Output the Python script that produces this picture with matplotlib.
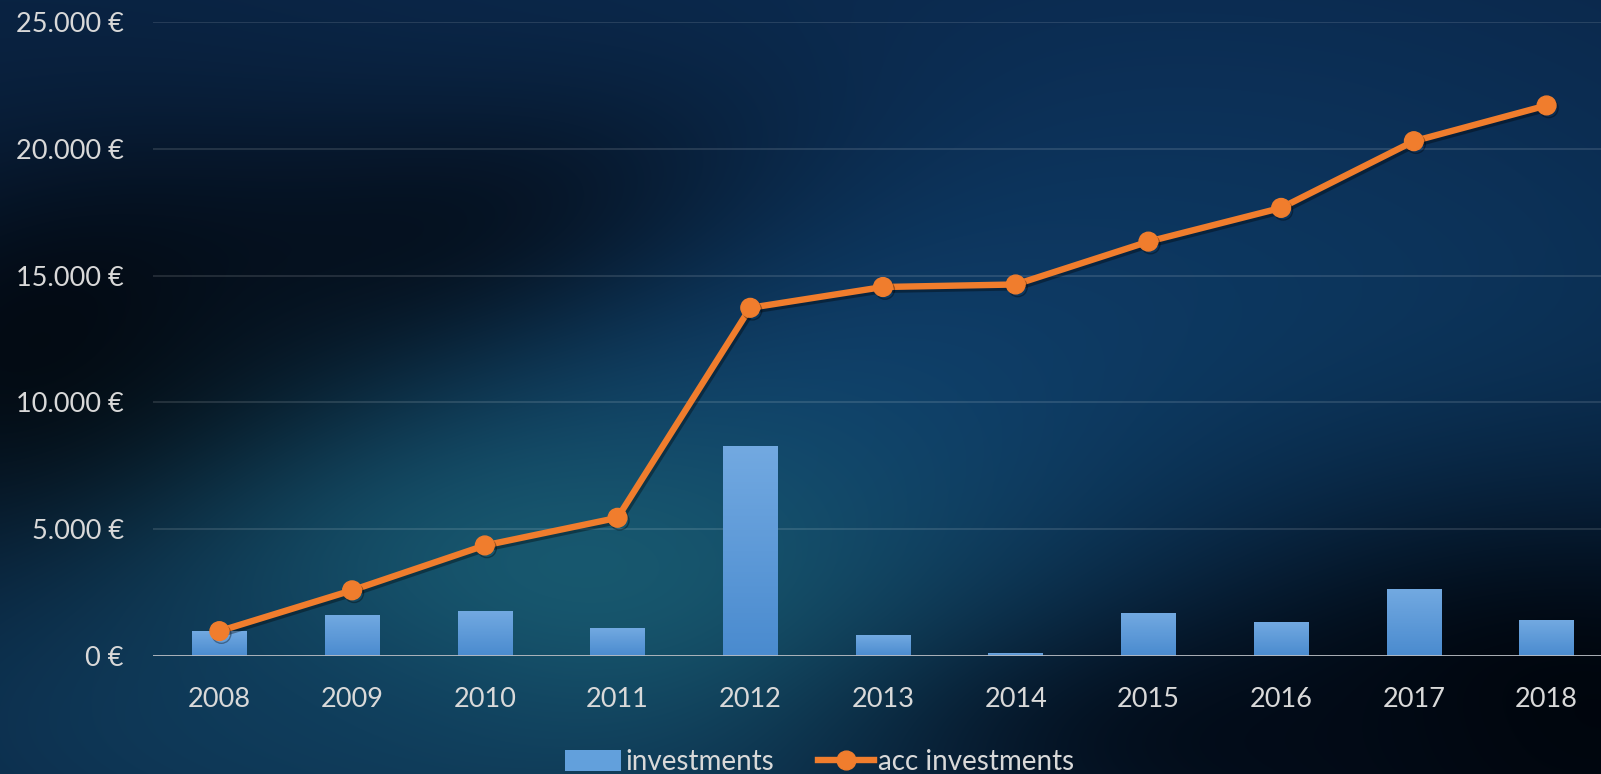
import numpy as np
import matplotlib
matplotlib.use("Agg")
import matplotlib.pyplot as plt
from matplotlib.lines import Line2D
from matplotlib.patches import Patch
import matplotlib.patheffects as pe
from matplotlib.ticker import FuncFormatter
from matplotlib.colors import LinearSegmentedColormap

years = ["2008", "2009", "2010", "2011", "2012", "2013", "2014", "2015", "2016", "2017", "2018"]
investments = [980, 1610, 1770, 1090, 8280, 820, 100, 1690, 1330, 2630, 1410]
acc_investments = [980, 2590, 4360, 5450, 13730, 14550, 14650, 16340, 17670, 20300, 21710]
yticks = [0, 5000, 10000, 15000, 20000, 25000]

plt.rcParams['font.family'] = ['Lato', 'DejaVu Sans']

W, H = 1601, 774
fig = plt.figure(figsize=(W / 100, H / 100), dpi=100)

# ---- background gradient ----
bg = fig.add_axes([0, 0, 1, 1], zorder=-10)
yy, xx = np.mgrid[0:H, 0:W].astype(float)
def hexc(h):
    h = h.lstrip('#')
    return np.array([int(h[i:i + 2], 16) / 255 for i in (0, 2, 4)])
img = np.ones((H, W, 3)) * hexc('#0a2342')
def blob(cx, cy, sx, sy, col, s=1.0, ang=0.0):
    global img
    a = np.deg2rad(ang)
    dx, dy = xx - cx, yy - cy
    u = dx * np.cos(a) + dy * np.sin(a)
    v = -dx * np.sin(a) + dy * np.cos(a)
    w = s * np.exp(-0.5 * ((u / sx) ** 2 + (v / sy) ** 2))
    img = img * (1 - w[..., None]) + hexc(col) * w[..., None]
blob(1100, 60, 600, 200, '#0c2d55', 0.7)
blob(950, 420, 450, 200, '#0f4170', 0.9)
blob(1350, 400, 350, 200, '#0d3a62', 0.6)
blob(80, 360, 220, 150, '#02060c', 1.0, -10)
blob(400, 250, 260, 100, '#040c18', 0.85, -15)
blob(560, 600, 280, 140, '#1a6074', 0.95)
blob(250, 730, 300, 110, '#0f3c5c', 0.7)
blob(1560, 720, 320, 170, '#00040a', 1.0)
blob(1250, 740, 250, 80, '#020a16', 0.8)
bg.imshow(np.clip(img, 0, 1), aspect='auto', extent=[0, W, H, 0])
bg.axis('off')

# ---- main axes ----
left = 153 / W
bottom = (H - 656) / H
top = (H - 22) / H
ax = fig.add_axes([left, bottom, 1.0 - left, top - bottom])
ax.patch.set_alpha(0)
x = np.arange(len(years))

bars = ax.bar(x, investments, width=0.41, color='#5b9bd5', zorder=3)
grad = np.linspace(0, 1, 100)[:, None]
cmap = LinearSegmentedColormap.from_list('b', ['#4a8bcf', '#72a9e1'])
for b in bars:
    bx, by = b.get_x(), b.get_y()
    bw, bh = b.get_width(), b.get_height()
    im = ax.imshow(grad, cmap=cmap, aspect='auto', origin='lower',
                   extent=[bx, bx + bw, by, by + bh], zorder=3.1)
    im.set_clip_path(b)

ax.plot(x, acc_investments, color='#f07d2d', lw=4.6, marker='o', ms=13.5,
        zorder=5, solid_capstyle='round',
        path_effects=[pe.SimpleLineShadow(offset=(1.5, -2), alpha=0.35, shadow_color='black'),
                      pe.Normal()])

ax.set_xlim(-0.5, 10.41)
ax.set_ylim(0, 25000)
ax.set_yticks(yticks)
ax.yaxis.set_major_formatter(FuncFormatter(lambda v, p: f"{int(v):,} €".replace(',', '.')))
ax.set_xticks(x)
ax.set_xticklabels(years)
ax.grid(axis='y', color='#ffffff', alpha=0.13, lw=1.3, zorder=0)
ax.axhline(0, color='#b8bcc2', lw=2, zorder=4)
for s in ax.spines.values():
    s.set_visible(False)
ax.tick_params(axis='both', length=0, labelcolor='#d9d9d9', labelsize=19.5)
ax.tick_params(axis='y', pad=21)
ax.tick_params(axis='x', pad=22)

handles = [Patch(facecolor='#62a0dc', edgecolor='none'),
           Line2D([0], [0], color='#f07d2d', lw=4.6, marker='o', ms=13.5)]
leg = fig.legend(handles, ['investments', 'acc investments'], loc='center',
                 bbox_to_anchor=(0.512, 1 - 762 / H), ncol=2, frameon=False,
                 fontsize=20, labelcolor='#d9d9d9', handlelength=2.0,
                 handletextpad=0.15, columnspacing=1.6, handleheight=0.8)

fig.savefig('out.png', dpi=100)
